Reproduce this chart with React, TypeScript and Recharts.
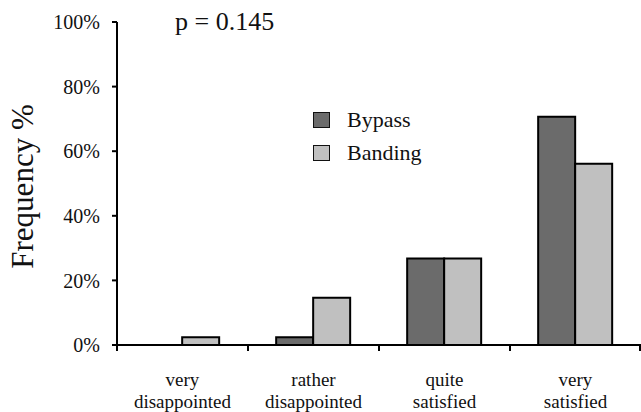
import React from 'react';
import { BarChart, Bar, XAxis, YAxis } from 'recharts';

const categories = [
  ['very', 'disappointed'],
  ['rather', 'disappointed'],
  ['quite', 'satisfied'],
  ['very', 'satisfied'],
];
const bypass = [0, 2.4, 26.8, 70.7];
const banding = [2.4, 14.6, 26.8, 56.1];
const yTicks = [0, 20, 40, 60, 80, 100];

const data = categories.map((c, i) => ({
  name: c.join(' '),
  lines: c,
  Bypass: bypass[i],
  Banding: banding[i],
}));

const FONT = '"Liberation Serif", "Times New Roman", serif';
const DARK = '#6b6b6b';
const LIGHT = '#c0c0c0';

const series = [
  { key: 'Bypass', color: DARK },
  { key: 'Banding', color: LIGHT },
];

const CategoryTick = (props: any) => {
  const { x, y, payload, index, visibleTicksCount } = props;
  const half = payload.offset || 65.5;
  const item = data[index] || data.find((d) => d.name === payload.value);
  const last = index === (visibleTicksCount || data.length) - 1;
  return (
    <g>
      <line x1={x - half} y1={y} x2={x - half} y2={y + 6} stroke="#000" strokeWidth={2} />
      {last && <line x1={x + half - 1} y1={y} x2={x + half - 1} y2={y + 6} stroke="#000" strokeWidth={2} />}
      <text x={x} y={y} textAnchor="middle" fontFamily={FONT} fontSize={19} fill="#111">
        <tspan x={x} dy={41}>{item ? item.lines[0] : ''}</tspan>
        <tspan x={x} dy={22}>{item ? item.lines[1] : ''}</tspan>
      </text>
    </g>
  );
};

const YLabel = (props: any) => {
  const { viewBox } = props;
  const cx = 33;
  const cy = viewBox.y + viewBox.height / 2 + 3;
  return (
    <text
      x={cx}
      y={cy}
      transform={`rotate(-90, ${cx}, ${cy})`}
      textAnchor="middle"
      fontFamily={FONT}
      fontSize={31}
      fill="#111"
    >
      Frequency %
    </text>
  );
};

export default function App() {
  return (
    <div style={{ position: 'absolute', left: 0, top: 0, width: 641, height: 412, background: '#fff' }}>
      <BarChart
        width={641}
        height={412}
        data={data}
        margin={{ top: 22, right: 0, bottom: 0, left: 0 }}
        barCategoryGap="21.5%"
        barGap={0}
      >
        <XAxis
          dataKey="name"
          height={67}
          tickSize={0}
          tickMargin={0}
          tickLine={false}
          axisLine={{ stroke: '#000', strokeWidth: 2 }}
          tick={<CategoryTick />}
          interval={0}
        />
        <YAxis
          width={117}
          domain={[0, 100]}
          ticks={yTicks}
          tickFormatter={(v: number) => `${v}%`}
          tickSize={5}
          tickMargin={12}
          tickLine={{ stroke: '#000', strokeWidth: 2 }}
          axisLine={{ stroke: '#000', strokeWidth: 2 }}
          tick={{ fill: '#111', fontFamily: FONT, fontSize: 20 }}
          label={<YLabel />}
          allowDataOverflow
        />
        {series.map((s) => (
          <Bar
            key={s.key}
            dataKey={s.key}
            fill={s.color}
            stroke="#000"
            strokeWidth={2}
            isAnimationActive={false}
          />
        ))}
      </BarChart>
      <div
        style={{
          position: 'absolute',
          left: 313,
          top: 103,
          fontFamily: FONT,
          fontSize: 22,
          color: '#111',
        }}
      >
        {series.map((s) => (
          <div key={s.key} style={{ display: 'flex', alignItems: 'center', height: 33 }}>
            <div
              style={{
                width: 15,
                height: 14,
                background: s.color,
                border: '1.5px solid #111',
                marginRight: 17,
              }}
            />
            <span>{s.key}</span>
          </div>
        ))}
      </div>
      <div
        style={{
          position: 'absolute',
          left: 175,
          top: 7,
          fontFamily: FONT,
          fontSize: 26,
          color: '#111',
          lineHeight: '30px',
          whiteSpace: 'nowrap',
        }}
      >
        p = 0.145
      </div>
    </div>
  );
}
